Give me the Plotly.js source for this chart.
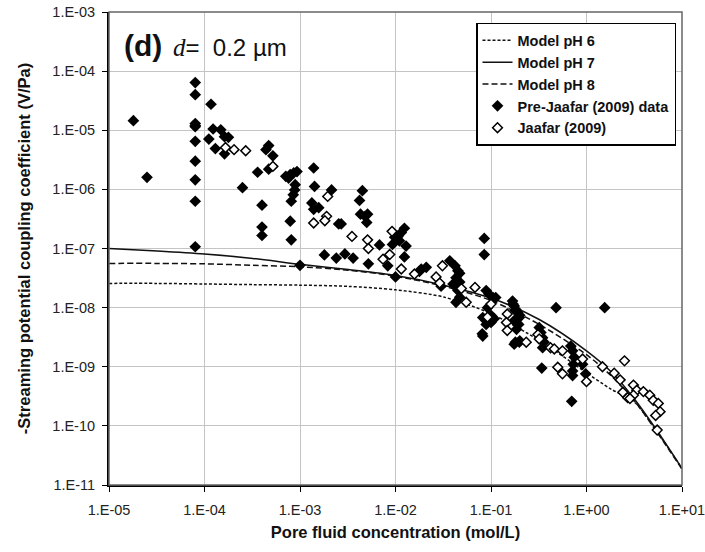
<!DOCTYPE html>
<html>
<head>
<meta charset="utf-8">
<script src="https://cdn.plot.ly/plotly-3.0.1.min.js"></script>
<style>html,body{margin:0;padding:0;background:#fff;}#chart{width:705px;height:552px;}</style>
</head>
<body>
<div id="chart"></div>
<script>
// Model curves (concentration in mol/L, coupling coefficient in V/Pa)
var modelX = [1e-5, 3.2e-5, 1e-4, 3.2e-4, 1e-3, 3.2e-3, 1e-2, 3.2e-2, 1e-1, 3.2e-1, 1, 1.8, 3.2, 5.6, 10];
var modelPH6 = [2.57e-8, 2.57e-8, 2.51e-8, 2.45e-8, 2.40e-8, 2.29e-8, 2.0e-8, 1.51e-8, 7.9e-9, 2.8e-9, 7.9e-10, 4.2e-10, 2.5e-10, 7.6e-11, 1.9e-11];
var modelPH7 = [1.0e-7, 9.1e-8, 8.1e-8, 6.8e-8, 5.4e-8, 4.4e-8, 3.5e-8, 2.4e-8, 1.45e-8, 6.3e-9, 1.86e-9, 8.3e-10, 2.8e-10, 7.9e-11, 1.9e-11];
var modelPH8 = [5.6e-8, 5.6e-8, 5.5e-8, 5.2e-8, 4.9e-8, 4.3e-8, 3.4e-8, 2.3e-8, 1.32e-8, 5.2e-9, 1.6e-9, 7.1e-10, 2.6e-10, 7.4e-11, 1.86e-11];

// Pre-Jaafar (2009) data
var preX = [1.8e-5, 2.5e-5,
  8e-5, 8e-5, 8e-5, 8e-5, 8e-5, 8e-5, 8e-5, 8e-5, 8e-5, 8e-5,
  1.17e-4, 1.23e-4, 1.11e-4, 1.48e-4, 1.3e-4, 1.62e-4, 1.78e-4, 1.62e-4, 2.5e-4, 3.6e-4,
  4.4e-4, 4.7e-4, 5.2e-4, 4.7e-4, 4.0e-4, 4.0e-4, 4.0e-4,
  7.1e-4, 7.6e-4, 7.9e-4, 8.6e-4, 9.3e-4, 8.9e-4, 8.8e-4, 8.5e-4, 8.1e-4, 7.9e-4, 8.1e-4, 1.0e-3,
  1.39e-3, 1.42e-3, 1.33e-3, 1.39e-3, 1.57e-3, 2.14e-3, 2.54e-3, 1.8e-3, 2.4e-3, 2.95e-3,
  4.5e-3, 4.2e-3, 4.3e-3, 4.8e-3, 5.1e-3, 5.0e-3, 2.7e-3, 3.6e-3, 5.2e-3, 6.8e-3, 8.3e-3,
  9.3e-3, 9.8e-3, 1.06e-2, 1.15e-2, 1.24e-2, 1.1e-2, 1.29e-2, 1.24e-2, 1.0e-2,
  1.86e-2, 2.1e-2, 1.78e-2, 3.0e-2, 3.7e-2, 4.2e-2, 4.5e-2, 4.3e-2, 4.7e-2, 4.0e-2, 4.5e-2, 4.3e-2,
  4.7e-2, 4.2e-2, 4.7e-2,
  8.5e-2, 8.5e-2, 8.9e-2, 9.5e-2, 0.105, 0.112, 9.2e-2, 0.1, 8.9e-2, 0.108, 8.1e-2, 8.2e-2, 0.1, 8.2e-2,
  0.17, 0.18, 0.2, 0.174, 0.19, 0.18, 0.2, 0.168, 0.175, 0.182, 0.19, 0.198, 0.195, 0.185, 0.175, 0.198,
  0.48, 1.55, 0.34, 0.32, 0.333, 0.347, 0.36, 0.347,
  0.685, 0.715, 0.743, 0.726, 0.715, 0.715, 0.91, 0.98, 0.70];
var preY = [1.45e-5, 1.6e-6,
  6.4e-5, 4.0e-5, 1.3e-5, 1.2e-5, 1.15e-5, 6.5e-6, 3.0e-6, 1.45e-6, 6.3e-7, 1.07e-7,
  2.75e-5, 1.05e-5, 7.1e-6, 1.02e-5, 4.9e-6, 7.8e-6, 7.6e-6, 4.0e-6, 1.07e-6, 1.95e-6,
  4.7e-6, 5.5e-6, 3.7e-6, 2.2e-6, 5.4e-7, 2.3e-7, 1.66e-7,
  1.66e-6, 1.55e-6, 1.78e-6, 1.9e-6, 2.0e-6, 1.2e-6, 9.8e-7, 8.1e-7, 6.3e-7, 2.9e-7, 1.4e-7, 5.2e-8,
  2.3e-6, 1.12e-6, 5.9e-7, 4.6e-7, 4.9e-7, 9.8e-7, 2.6e-7, 7.8e-8, 6.9e-8, 8.1e-8,
  9.5e-7, 6.5e-7, 3.8e-7, 3.5e-7, 3.8e-7, 2.75e-7, 2.6e-7, 6.9e-8, 5.5e-8, 1.15e-7, 5.1e-8,
  1.17e-7, 1.55e-7, 1.6e-7, 1.86e-7, 2.2e-7, 1.35e-7, 1.1e-7, 7.2e-8, 3.3e-8,
  4.5e-8, 4.8e-8, 4.1e-8, 2.3e-8, 6.2e-8, 5.1e-8, 4.2e-8, 3.2e-8, 2.7e-8, 2.5e-8, 1.95e-8, 1.23e-8,
  3.8e-8, 2.4e-8, 1.5e-8,
  1.48e-7, 7.9e-8, 1.95e-8, 1.7e-8, 1.48e-8, 1.48e-8, 1.0e-8, 7.4e-9, 5.2e-9, 6.5e-9, 3.6e-9, 6.8e-9, 5.6e-9, 3.3e-9,
  1.15e-8, 8.9e-9, 7.4e-9, 6.0e-9, 5.2e-9, 2.6e-9, 2.75e-9, 1.29e-8, 1.07e-8, 9.3e-9, 8.3e-9, 6.8e-9, 5.2e-9, 4.3e-9, 2.4e-9, 2.6e-9,
  1.0e-8, 1.0e-8, 9.5e-10, 4.6e-9, 3.8e-9, 3.1e-9, 2.6e-9, 2.1e-9,
  2.24e-9, 1.86e-9, 1.45e-9, 1.1e-9, 8.5e-10, 7.1e-10, 1.1e-9, 7.6e-10, 2.6e-10];

// Jaafar (2009) data
var jaaX = [1.66e-4, 2.04e-4, 2.7e-4, 5.2e-4, 1.95e-3, 1.9e-3, 1.39e-3, 1.82e-3,
  3.5e-3, 5.1e-3, 5.2e-3, 7.4e-3, 8.7e-3, 9.2e-3, 1.15e-2, 1.58e-2, 2.66e-2, 3.1e-2, 2.9e-2,
  4.9e-2, 5.5e-2, 6.8e-2, 0.1, 9.2e-2, 0.148, 0.145, 0.148, 0.234,
  0.31, 0.32, 0.42, 0.46, 0.56, 0.50, 0.56, 0.91, 1.0, 1.47, 1.95, 2.25, 2.5, 2.4, 2.7,
  3.1, 3.36, 3.94, 4.6, 5.0, 5.65, 5.9, 3.1, 2.85, 5.5, 5.3];
var jaaY = [5.1e-6, 4.7e-6, 4.5e-6, 2.45e-6, 7.6e-7, 3.5e-7, 2.7e-7, 2.95e-7,
  1.6e-7, 1.4e-7, 1.0e-7, 6.6e-8, 7.9e-8, 1.95e-7, 4.5e-8, 3.7e-8, 3.3e-8, 5.1e-8, 2.6e-8,
  2.1e-8, 1.23e-8, 2.2e-8, 1.15e-8, 6.9e-9, 7.8e-9, 5.6e-9, 4.1e-9, 2.6e-9,
  3.5e-9, 2.95e-9, 2.1e-9, 2.0e-9, 1.86e-9, 9.8e-10, 7.6e-10, 1.35e-9, 5.6e-10, 1.0e-9, 7.8e-10, 6.0e-10, 1.26e-9, 3.7e-10, 3.0e-10,
  4.9e-10, 4.0e-10, 3.8e-10, 3.3e-10, 2.7e-10, 2.4e-10, 1.74e-10, 3.3e-10, 2.9e-10, 8.5e-11, 1.5e-10];

var xTickVals = [1e-5, 1e-4, 1e-3, 1e-2, 1e-1, 1, 10];
var xTickText = ['1.E-05', '1.E-04', '1.E-03', '1.E-02', '1.E-01', '1.E+00', '1.E+01'];
var yTickVals = [1e-11, 1e-10, 1e-9, 1e-8, 1e-7, 1e-6, 1e-5, 1e-4, 1e-3];
var yTickText = ['1.E-11', '1.E-10', '1.E-09', '1.E-08', '1.E-07', '1.E-06', '1.E-05', '1.E-04', '1.E-03'];

var FONT = 'Liberation Sans, Arial, sans-serif';

var traces = [
  {x: modelX, y: modelPH6, mode: 'lines', name: 'Model pH 6', legendgroup: 'a', legendrank: 1,
   line: {color: '#111', width: 1.5, dash: '3px,2px', shape: 'spline', smoothing: 0.8}},
  {x: modelX, y: modelPH7, mode: 'lines', name: 'Model pH 7', legendgroup: 'b', legendrank: 2,
   line: {color: '#111', width: 1.5, shape: 'spline', smoothing: 0.8}},
  {x: modelX, y: modelPH8, mode: 'lines', name: 'Model pH 8', legendgroup: 'c', legendrank: 3,
   line: {color: '#111', width: 1.5, dash: '6px,3px', shape: 'spline', smoothing: 0.8}},
  {x: preX, y: preY, mode: 'markers', name: 'Pre-Jaafar (2009) data', legendgroup: 'd', legendrank: 4,
   marker: {symbol: 'diamond', size: 9, color: '#000', line: {width: 0}}},
  {x: jaaX, y: jaaY, mode: 'markers', name: 'Jaafar (2009)', legendgroup: 'e', legendrank: 5,
   marker: {symbol: 'diamond', size: 7.5, color: '#fff', line: {color: '#000', width: 1.5}}}
];

var layout = {
  width: 705, height: 552,
  margin: {l: 109, r: 23, t: 12, b: 67},
  paper_bgcolor: '#fff', plot_bgcolor: '#fff',
  font: {family: FONT, color: '#222'},
  showlegend: true,
  legend: {
    x: 0.6405, y: 0.977, xanchor: 'left', yanchor: 'top',
    bgcolor: '#fff', bordercolor: '#000', borderwidth: 1.5,
    font: {family: FONT, size: 14.5, color: '#111', weight: 'bold'},
    traceorder: 'grouped', tracegroupgap: 0
  },
  xaxis: {
    type: 'log', range: [-5, 1],
    tickvals: xTickVals, ticktext: xTickText,
    tickfont: {family: FONT, size: 14.5, color: '#222'},
    ticks: 'outside', ticklen: 5, tickcolor: '#000', tickwidth: 1,
    ticklabelstandoff: 6, ticklabeloverflow: 'allow',
    showgrid: true, gridcolor: '#c4c4c4', gridwidth: 1,
    showline: true, linecolor: '#000', linewidth: 2,
    zeroline: false,
    title: {text: 'Pore fluid concentration (mol/L)', font: {family: FONT, size: 16.5, color: '#111', weight: 'bold'}, standoff: 9}
  },
  yaxis: {
    type: 'log', range: [-11, -3],
    tickvals: yTickVals, ticktext: yTickText,
    tickfont: {family: FONT, size: 14.5, color: '#222'},
    ticks: 'outside', ticklen: 5, tickcolor: '#000', tickwidth: 1,
    ticklabelstandoff: 4, ticklabeloverflow: 'allow',
    showgrid: true, gridcolor: '#c4c4c4', gridwidth: 1,
    showline: true, linecolor: '#000', linewidth: 2,
    zeroline: false,
    title: {text: '-Streaming potential coupling coefficient (V/Pa)', font: {family: FONT, size: 16.5, color: '#111', weight: 'bold'}, standoff: 18}
  },
  shapes: [
    {type: 'rect', xref: 'paper', yref: 'paper', x0: 0, x1: 1, y0: 0, y1: 1,
     line: {color: '#666', width: 1.5}, layer: 'above'}
  ],
  annotations: [
    {xref: 'paper', yref: 'paper', x: 0.0227, y: 0.93, xanchor: 'left', yanchor: 'middle',
     showarrow: false, text: '<b>(d)</b>', font: {family: FONT, size: 30, color: '#111'}},
    {xref: 'paper', yref: 'paper', x: 0.108, y: 0.924, xanchor: 'left', yanchor: 'middle',
     showarrow: false,
     text: '<span style="font-family:Liberation Serif;font-size:25px"><i>d</i></span>=\u00A0\u00A00.2 µm',
     font: {family: FONT, size: 24, color: '#111'}}
  ]
};

Plotly.newPlot('chart', traces, layout, {displayModeBar: false, staticPlot: true});
</script>
</body>
</html>
